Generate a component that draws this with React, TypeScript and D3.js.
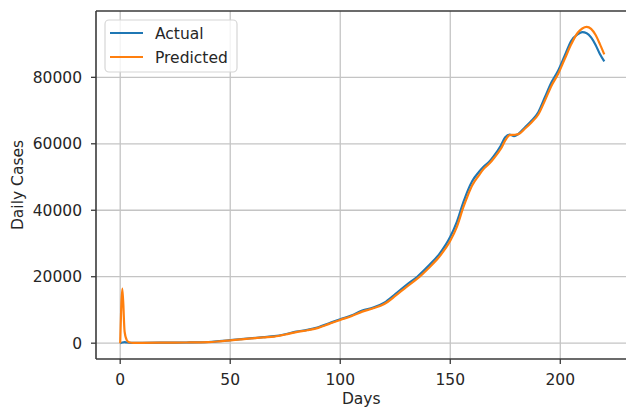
import React from "react";
import * as d3 from "d3";

const actualDays = [0, 1, 2, 3, 5, 10, 20, 30, 40, 45, 50, 55, 60, 65, 70, 75, 80, 85, 90, 95, 100, 105, 110, 115, 120, 125, 130, 135, 140, 145, 150, 153, 156, 158, 160, 163, 165, 168, 170, 173, 175, 177, 179, 181, 184, 187, 190, 193, 196, 199, 202, 205, 208, 210, 212, 214, 216, 218, 220];
const actualCases = [0, 200, 300, 200, 100, 100, 150, 200, 350, 600, 900, 1200, 1500, 1800, 2100, 2700, 3500, 4000, 4800, 6000, 7200, 8300, 9800, 10700, 12200, 14800, 17500, 20000, 23200, 26800, 32000, 36500, 42500, 46000, 48800, 51500, 53000, 54800, 56500, 59500, 62000, 62800, 62300, 63000, 65000, 67000, 69500, 74000, 78500, 82000, 86500, 91000, 93000, 93600, 93300, 92000, 89800, 87000, 84800];

const predictedDays = [0, 1, 2, 3, 4, 6, 10, 20, 30, 40, 45, 50, 55, 60, 65, 70, 75, 80, 85, 90, 95, 100, 105, 110, 115, 120, 125, 130, 135, 140, 145, 150, 153, 156, 158, 160, 163, 165, 168, 170, 173, 175, 177, 179, 181, 184, 187, 190, 193, 196, 199, 202, 205, 208, 210, 212, 214, 216, 218, 220];
const predictedCases = [0, 16400, 3500, 900, 300, 100, 100, 150, 200, 320, 550, 850, 1150, 1450, 1750, 2000, 2600, 3350, 3900, 4600, 5800, 7000, 8100, 9500, 10500, 11800, 14200, 16900, 19400, 22500, 26000, 30800, 35000, 41000, 44500, 47500, 50500, 52300, 54200, 55800, 58500, 61000, 62600, 62700, 62900, 64600, 66500, 68800, 73000, 77500, 81000, 85500, 90000, 93500, 94700, 95200, 94600, 92800, 90000, 86900];

const xTicks = [0, 50, 100, 150, 200];
const yTicks = [0, 20000, 40000, 60000, 80000];
const seriesNames = ["Actual", "Predicted"];
const seriesColors = ["#1f77b4", "#ff7f0e"];

const W = 626;
const H = 409;
const left = 96;
const right = 628.5;
const top = 11;
const bottom = 359;
const FONT = "DejaVu Sans, sans-serif";
const FS = 15.5;

export default function App() {
  const allDays = [...actualDays, ...predictedDays];
  const allVals = [...actualCases, ...predictedCases];
  const [x0, x1] = d3.extent(allDays) as [number, number];
  const [y0, y1] = d3.extent(allVals) as [number, number];
  const xp = (x1 - x0) * 0.05;
  const yp = (y1 - y0) * 0.05;
  const x = d3.scaleLinear().domain([x0 - xp, x1 + xp]).range([left, right]);
  const y = d3.scaleLinear().domain([y0 - yp, y1 + yp]).range([bottom, top]);

  const line = d3
    .line<[number, number]>()
    .x((d) => x(d[0]))
    .y((d) => y(d[1]))
    .curve(d3.curveMonotoneX);

  const actualPath = line(actualDays.map((d, i) => [d, actualCases[i]]) as [number, number][]) || "";
  const predPath = line(predictedDays.map((d, i) => [d, predictedCases[i]]) as [number, number][]) || "";

  const gridColor = "#c4c4c4";
  const spineColor = "#3a3a3a";
  const textColor = "#262626";

  return (
    <svg width={W} height={H} style={{ position: "absolute", left: 0, top: 0, background: "#fff" }} fontFamily={FONT}>
      <defs>
        <clipPath id="plot">
          <rect x={left} y={top} width={right - left} height={bottom - top} />
        </clipPath>
      </defs>
      <rect x={0} y={0} width={W} height={H} fill="#fff" />
      {xTicks.map((t) => (
        <line key={"gx" + t} x1={x(t)} x2={x(t)} y1={top} y2={bottom} stroke={gridColor} strokeWidth={1.3} />
      ))}
      {yTicks.map((t) => (
        <line key={"gy" + t} x1={left} x2={right} y1={y(t)} y2={y(t)} stroke={gridColor} strokeWidth={1.3} />
      ))}
      <g clipPath="url(#plot)">
        <path d={actualPath} fill="none" stroke={seriesColors[0]} strokeWidth={2.2} strokeLinejoin="round" />
        <path d={predPath} fill="none" stroke={seriesColors[1]} strokeWidth={2.2} strokeLinejoin="round" />
      </g>
      <line x1={left} x2={left} y1={top} y2={bottom} stroke={spineColor} strokeWidth={1.6} />
      <line x1={left} x2={right} y1={bottom} y2={bottom} stroke={spineColor} strokeWidth={1.6} />
      <line x1={left} x2={right} y1={top} y2={top} stroke={spineColor} strokeWidth={1.6} />
      <line x1={right} x2={right} y1={top} y2={bottom} stroke={spineColor} strokeWidth={1.6} />
      {xTicks.map((t) => (
        <g key={"xt" + t}>
          <line x1={x(t)} x2={x(t)} y1={bottom} y2={bottom + 5} stroke={spineColor} strokeWidth={1.3} />
          <text x={x(t)} y={bottom + 26} textAnchor="middle" fontSize={FS} fill={textColor}>
            {t}
          </text>
        </g>
      ))}
      {yTicks.map((t) => (
        <g key={"yt" + t}>
          <line x1={left - 5} x2={left} y1={y(t)} y2={y(t)} stroke={spineColor} strokeWidth={1.3} />
          <text x={left - 14} y={y(t)} dy="0.36em" textAnchor="end" fontSize={FS} fill={textColor}>
            {t}
          </text>
        </g>
      ))}
      <text x={(left + right) / 2 - 1} y={404} textAnchor="middle" fontSize={FS} fill={textColor}>
        Days
      </text>
      <text
        transform={`translate(23, ${(top + bottom) / 2}) rotate(-90)`}
        textAnchor="middle"
        fontSize={FS}
        fill={textColor}
      >
        Daily Cases
      </text>
      <g>
        <rect x={105} y={20} width={132} height={52} rx={4} fill="#fff" fillOpacity={0.8} stroke="#d6d6d6" strokeWidth={1.2} />
        {seriesNames.map((n, i) => (
          <g key={n}>
            <line x1={110} x2={143} y1={33 + i * 24} y2={33 + i * 24} stroke={seriesColors[i]} strokeWidth={2.2} />
            <text x={155} y={33 + i * 24} dy="0.36em" fontSize={FS} fill={textColor}>
              {n}
            </text>
          </g>
        ))}
      </g>
    </svg>
  );
}
